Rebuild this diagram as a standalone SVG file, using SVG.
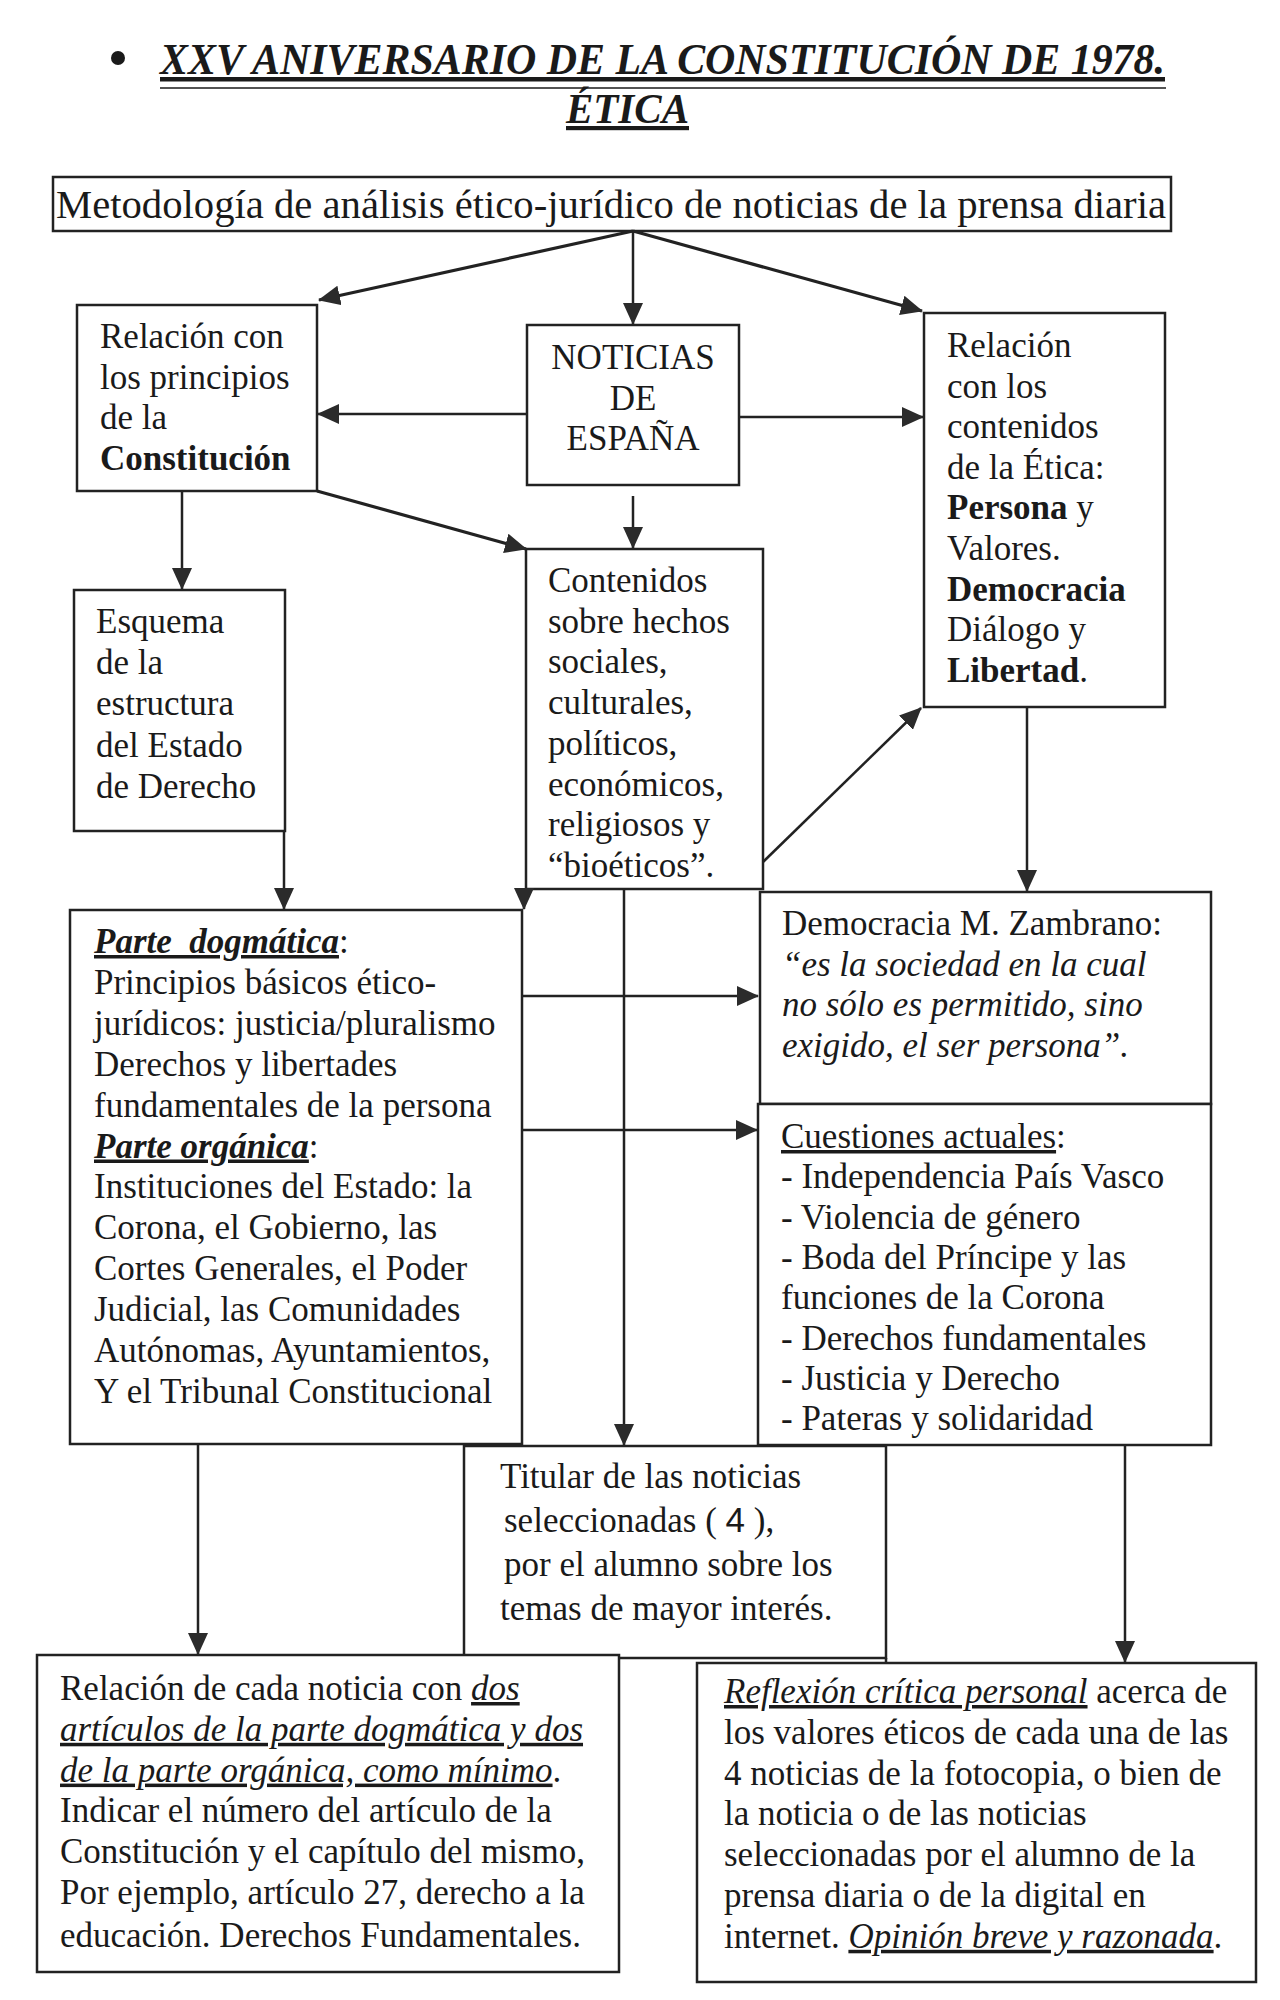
<svg xmlns="http://www.w3.org/2000/svg" width="1280" height="2000" viewBox="0 0 1280 2000">
<defs>
<marker id="ah" viewBox="0 0 22 20" refX="21" refY="10" markerWidth="22" markerHeight="20" markerUnits="userSpaceOnUse" orient="auto"><path d="M0,0 L22,10 L0,20 Z" fill="#2b2b2b"/></marker>
</defs>
<style>
.box{fill:#fff;stroke:#222;stroke-width:2.5}
.t{font-family:"Liberation Serif","Times New Roman",serif;font-size:35px;fill:#1a1a1a}
.ttl{font-family:"Liberation Serif","Times New Roman",serif;font-size:45px;font-weight:bold;font-style:italic;fill:#1a1a1a;text-decoration:underline;text-decoration-thickness:4px}
.b{font-weight:bold}
.i{font-style:italic}
.u{text-decoration:underline}
.ul{stroke:#1a1a1a}
.edge{stroke:#222;stroke-width:2.5;fill:none;marker-end:url(#ah)}
.edge3{stroke:#222;stroke-width:3.2;fill:none;marker-end:url(#ah)}
.plain{stroke:#222;stroke-width:2.5;fill:none}
</style>
<rect width="1280" height="2000" fill="#fff"/>

<g id="title">
<circle cx="118" cy="58" r="7" fill="#1a1a1a"/>
<text class="ttl" x="160" y="74" textLength="1005" lengthAdjust="spacingAndGlyphs">XXV ANIVERSARIO DE LA CONSTITUCIÓN DE 1978.</text>
<line class="ul" x1="160" y1="88" x2="1166" y2="88" stroke-width="1.5"/>
<text class="ttl" x="566" y="123" style="font-size:42px" textLength="123" lengthAdjust="spacingAndGlyphs">ÉTICA</text>
</g>

<g id="metodologia">
<rect class="box" x="53" y="177" width="1118" height="54"/>
<text class="t" x="56" y="218" style="font-size:39px" textLength="1110" lengthAdjust="spacingAndGlyphs">Metodología de análisis ético-jurídico de noticias de la prensa diaria</text>
</g>

<g id="relacion-constitucion">
<rect class="box" x="77" y="305" width="240" height="186"/>
<text class="t" transform="translate(100,348)"><tspan x="0" y="0">Relación con</tspan><tspan x="0" dy="40.5">los principios</tspan><tspan x="0" dy="40.5">de la</tspan><tspan x="0" dy="40.5" class="b">Constitución</tspan></text>
</g>

<g id="noticias">
<rect class="box" x="527" y="325" width="212" height="160"/>
<text class="t" text-anchor="middle" transform="translate(633,369)"><tspan x="0" y="0">NOTICIAS</tspan><tspan x="0" dy="40.5">DE</tspan><tspan x="0" dy="40.5">ESPAÑA</tspan></text>
</g>

<g id="relacion-etica">
<rect class="box" x="924" y="313" width="241" height="394"/>
<text class="t" transform="translate(947,357)"><tspan x="0" y="0">Relación</tspan><tspan x="0" dy="40.6">con los</tspan><tspan x="0" dy="40.6">contenidos</tspan><tspan x="0" dy="40.6">de la Ética:</tspan><tspan x="0" dy="40.6"><tspan class="b">Persona</tspan> y</tspan><tspan x="0" dy="40.6">Valores.</tspan><tspan x="0" dy="40.6" class="b">Democracia</tspan><tspan x="0" dy="40.6">Diálogo y</tspan><tspan x="0" dy="40.6"><tspan class="b">Libertad</tspan>.</tspan></text>
</g>

<g id="esquema">
<rect class="box" x="74" y="590" width="211" height="241"/>
<text class="t" transform="translate(96,633)"><tspan x="0" y="0">Esquema</tspan><tspan x="0" dy="41.2">de la</tspan><tspan x="0" dy="41.2">estructura</tspan><tspan x="0" dy="41.2">del Estado</tspan><tspan x="0" dy="41.2">de Derecho</tspan></text>
</g>

<g id="contenidos">
<rect class="box" x="526" y="549" width="237" height="340"/>
<text class="t" transform="translate(548,592)"><tspan x="0" y="0">Contenidos</tspan><tspan x="0" dy="40.7">sobre hechos</tspan><tspan x="0" dy="40.7">sociales,</tspan><tspan x="0" dy="40.7">culturales,</tspan><tspan x="0" dy="40.7">políticos,</tspan><tspan x="0" dy="40.7">económicos,</tspan><tspan x="0" dy="40.7">religiosos y</tspan><tspan x="0" dy="40.7">“bioéticos”.</tspan></text>
</g>

<g id="parte">
<rect class="box" x="70" y="910" width="452" height="534"/>
<text class="t" xml:space="preserve" transform="translate(94,953)"><tspan x="0" y="0"><tspan class="b i u">Parte  dogmática</tspan>:</tspan><tspan x="0" dy="40.9">Principios básicos ético-</tspan><tspan x="0" dy="40.9">jurídicos: justicia/pluralismo</tspan><tspan x="0" dy="40.9">Derechos y libertades</tspan><tspan x="0" dy="40.9">fundamentales de la persona</tspan><tspan x="0" dy="40.9"><tspan class="b i u">Parte orgánica</tspan>:</tspan><tspan x="0" dy="40.9">Instituciones del Estado: la</tspan><tspan x="0" dy="40.9">Corona, el Gobierno, las</tspan><tspan x="0" dy="40.9">Cortes Generales, el Poder</tspan><tspan x="0" dy="40.9">Judicial, las Comunidades</tspan><tspan x="0" dy="40.9">Autónomas, Ayuntamientos,</tspan><tspan x="0" dy="40.9">Y el Tribunal Constitucional</tspan></text>
</g>

<g id="democracia">
<rect class="box" x="760" y="892" width="451" height="212"/>
<text class="t" transform="translate(782,935)"><tspan x="0" y="0">Democracia M. Zambrano:</tspan><tspan x="0" dy="40.7" class="i">“es la sociedad en la cual</tspan><tspan x="0" dy="40.7" class="i">no sólo es permitido, sino</tspan><tspan x="0" dy="40.7" class="i">exigido, el ser persona”.</tspan></text>
</g>

<g id="cuestiones">
<rect class="box" x="758" y="1104" width="453" height="341"/>
<text class="t" transform="translate(781,1148)"><tspan x="0" y="0"><tspan class="u">Cuestiones actuales</tspan>:</tspan><tspan x="0" dy="40.3">- Independencia País Vasco</tspan><tspan x="0" dy="40.3">- Violencia de género</tspan><tspan x="0" dy="40.3">- Boda del Príncipe y las</tspan><tspan x="0" dy="40.3">funciones de la Corona</tspan><tspan x="0" dy="40.3">- Derechos fundamentales</tspan><tspan x="0" dy="40.3">- Justicia y Derecho</tspan><tspan x="0" dy="40.3">- Pateras y solidaridad</tspan></text>
</g>

<g id="titular">
<rect class="box" x="464" y="1446" width="422" height="212"/>
<line class="plain" x1="886" y1="1658" x2="886" y2="1663"/>
<text class="t" transform="translate(500,1488)"><tspan x="0" y="0">Titular de las noticias</tspan><tspan x="4" dy="44">seleccionadas ( <tspan style="font-family:'Liberation Sans',Arial,sans-serif">4</tspan> ),</tspan><tspan x="4" dy="44">por el alumno sobre los</tspan><tspan x="0" dy="44">temas de mayor interés.</tspan></text>
</g>

<g id="relacion-noticia">
<rect class="box" x="37" y="1655" width="582" height="317"/>
<text class="t" transform="translate(60,1700)"><tspan x="0" y="0">Relación de cada noticia con <tspan class="i u">dos</tspan></tspan><tspan x="0" dy="40.8" class="i u">artículos de la parte dogmática y dos</tspan><tspan x="0" dy="40.8"><tspan class="i u">de la parte orgánica, como mínimo</tspan>.</tspan><tspan x="0" dy="40.8">Indicar el número del artículo de la</tspan><tspan x="0" dy="40.8">Constitución y el capítulo del mismo,</tspan><tspan x="0" dy="40.8">Por ejemplo, artículo 27, derecho a la</tspan><tspan x="0" dy="42.5">educación. Derechos Fundamentales.</tspan></text>
</g>

<g id="reflexion">
<rect class="box" x="697" y="1663" width="559" height="319"/>
<text class="t" transform="translate(724,1703)"><tspan x="0" y="0"><tspan class="i u">Reflexión crítica personal</tspan> acerca de</tspan><tspan x="0" dy="40.8">los valores éticos de cada una de las</tspan><tspan x="0" dy="40.8">4 noticias de la fotocopia, o bien de</tspan><tspan x="0" dy="40.8">la noticia o de las noticias</tspan><tspan x="0" dy="40.8">seleccionadas por el alumno de la</tspan><tspan x="0" dy="40.8">prensa diaria o de la digital en</tspan><tspan x="0" dy="40.8">internet. <tspan class="i u">Opinión breve y razonada</tspan>.</tspan></text>
</g>

<g id="connectors">
<path class="edge3" d="M633,231 L319,300"/>
<path class="edge" d="M633,231 L633,324"/>
<path class="edge3" d="M633,231 L922,311"/>
<path class="edge" d="M527,414 L318,414"/>
<path class="edge" d="M739,417 L923,417"/>
<path class="edge3" d="M317,491 L526,549"/>
<path class="edge" d="M633,496 L633,548"/>
<path class="edge" d="M182,491 L182,589"/>
<path class="edge" d="M284,831 L284,909"/>
<path class="edge" d="M524,889 L524,909"/>
<path class="edge" d="M763,862 L921,708"/>
<path class="edge" d="M1027,707 L1027,891"/>
<path class="edge" d="M522,996 L758,996"/>
<path class="edge" d="M522,1130 L757,1130"/>
<path class="edge" d="M624,889 L624,1445"/>
<path class="edge" d="M198,1444 L198,1654"/>
<path class="edge" d="M1125,1445 L1125,1662"/>
</g>
</svg>
